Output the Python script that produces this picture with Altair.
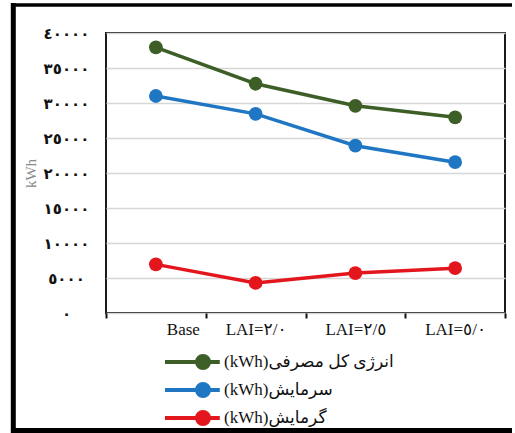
import altair as alt
import pandas as pd

# Scenarios on the horizontal axis
categories = ["Base", "LAI=٢/٠", "LAI=٢/٥", "LAI=٥/٠"]

# Series names (legend order) and their yearly energy use in kWh
series_names = ["(kWh)انرژی کل مصرفی", "(kWh)سرمایش", "(kWh)گرمایش"]
total_energy = [37950, 32750, 29600, 27950]
cooling = [31000, 28450, 23900, 21550]
heating = [6950, 4300, 5700, 6400]
series_colors = ["#3d5f27", "#1f77c4", "#e3161d"]

# Vertical axis ticks and their Arabic-Indic labels
y_ticks = [0, 5000, 10000, 15000, 20000, 25000, 30000, 35000, 40000]
y_tick_labels = ["٠", "٥٠٠٠", "١٠٠٠٠", "١٥٠٠٠", "٢٠٠٠٠", "٢٥٠٠٠", "٣٠٠٠٠", "٣٥٠٠٠", "٤٠٠٠٠"]

rows = []
for name, vals in zip(series_names, [total_energy, cooling, heating]):
    for cat, v in zip(categories, vals):
        rows.append({"scenario": cat, "series": name, "kwh": v})
df = pd.DataFrame(rows)

# nested ternary that maps each tick value to its label
label_expr = "''"
for v, lab in reversed(list(zip(y_ticks, y_tick_labels))):
    label_expr = f"datum.value == {v} ? '{lab}' : ({label_expr})"

serif = "Liberation Serif, Times New Roman, DejaVu Sans"

# legend glyph: a short line with a dot on it
legend_symbol = (
    "M-4.75,0L2.1,0"
    "M0.75,0A0.75,0.75,0,1,1,-0.75,0A0.75,0.75,0,1,1,0.75,0Z"
)

x_enc = alt.X(
    "scenario:N",
    sort=categories,
    bandPosition=0.5,
    scale=alt.Scale(type="band", paddingInner=0, paddingOuter=0),
    axis=alt.Axis(
        title=None,
        tickBand="extent",
        labelAngle=0,
        domain=False,
        grid=False,
        tickSize=5,
        tickWidth=2,
        tickColor="#111111",
        labelFont=serif,
        labelFontSize=17,
        labelColor="#111111",
        labelPadding=3,
        labelOffset={"condition": {"test": "datum.value === 'Base'", "value": 27}, "value": 0},
    ),
)

y_enc = alt.Y(
    "kwh:Q",
    scale=alt.Scale(domain=[0, 40000], nice=False),
    axis=alt.Axis(
        values=y_ticks,
        labelExpr=label_expr,
        grid=True,
        gridColor="#d6d6d6",
        gridWidth=1.5,
        domain=False,
        ticks=False,
        labelAlign="center",
        labelBaseline="middle",
        labelPadding=40,
        labelFont="DejaVu Sans",
        labelFontWeight="bold",
        labelFontSize=15,
        labelColor="#111111",
        title="kWh",
        titleColor="#8a8a8a",
        titleFont=serif,
        titleFontWeight="normal",
        titleFontSize=15,
        titleAngle=270,
        titleX=-76,
        titleY=140,
        titleAlign="center",
        titleBaseline="middle",
    ),
)

color_enc = alt.Color(
    "series:N",
    sort=series_names,
    scale=alt.Scale(domain=series_names, range=series_colors),
    legend=alt.Legend(
        title=None,
        orient="none",
        legendX=87,
        legendY=319,
        direction="vertical",
        symbolType=legend_symbol,
        symbolSize=256,
        symbolStrokeWidth=4,
        symbolOpacity=1,
        labelFont=serif,
        labelFontSize=17,
        labelColor="#111111",
        labelOffset=11,
        labelLimit=320,
        rowPadding=0,
        padding=0,
    ),
)

lines = alt.Chart(df).mark_line(strokeWidth=3.5).encode(
    x=x_enc, y=y_enc, color=color_enc, detail="series:N"
)
points = alt.Chart(df).mark_point(filled=True, size=190, opacity=1).encode(
    x=x_enc, y=y_enc, color=color_enc
)

# black frame around the figure (top, left and bottom edges)
one = alt.Data(values=[{}])
frame_top = alt.Chart(one).mark_rule(color="#000000", strokeWidth=3.5).encode(
    x=alt.value(-95), x2=alt.value(406), y=alt.value(-28)
)
frame_left = alt.Chart(one).mark_rule(color="#000000", strokeWidth=5).encode(
    x=alt.value(-92.7), y=alt.value(-30), y2=alt.value(400)
)
frame_bottom = alt.Chart(one).mark_rule(color="#000000", strokeWidth=5).encode(
    x=alt.value(-95), x2=alt.value(406), y=alt.value(397.5)
)

chart = (
    alt.layer(lines, points, frame_top, frame_left, frame_bottom)
    .properties(
        width=399,
        height=280,
        autosize=alt.AutoSizeParams(type="none"),
        padding={"left": 106, "top": 33, "right": 10, "bottom": 120},
        background="white",
    )
    .configure_view(stroke="#1a1a1a", strokeWidth=2)
)

chart.save("out.html", embed_options={"renderer": "svg", "actions": False})
